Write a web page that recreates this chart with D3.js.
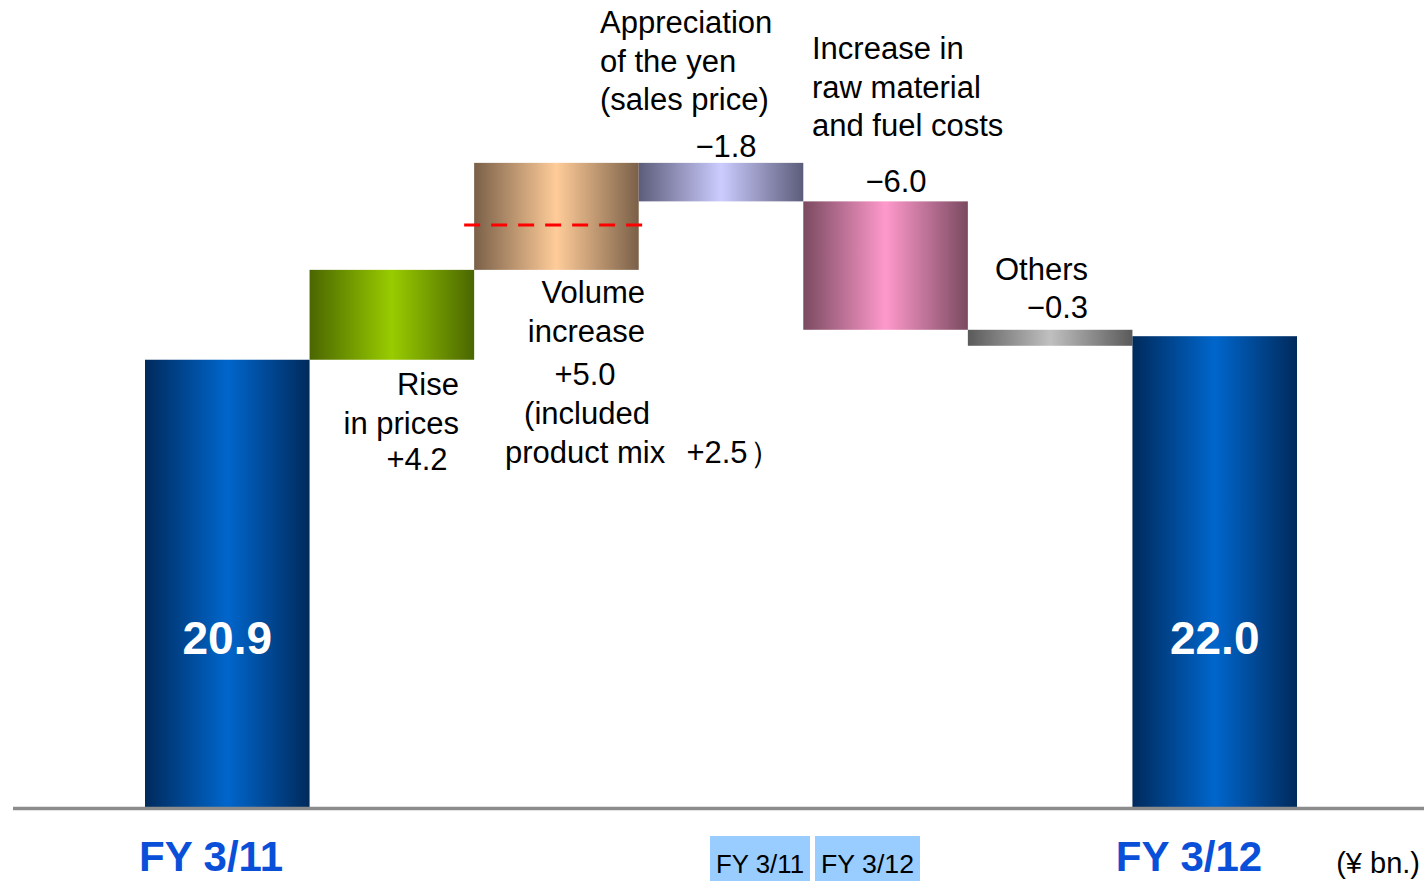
<!DOCTYPE html>
<html lang="en">
<head>
<meta charset="UTF-8">
<title>Operating income waterfall</title>
<script src="https://d3js.org/d3.v7.min.js"></script>
<style>
  body { margin: 0; background: #fff; }
  svg { display: block; font-family: "Liberation Sans", Arial, sans-serif; }
</style>
</head>
<body>
<svg id="chart" width="1424" height="881"></svg>
<script>
// data
const categories = ["FY 3/11", "Rise in prices", "Volume increase", "Appreciation of the yen",
                    "Raw material and fuel costs", "Others", "FY 3/12"];
const values = [20.9, 4.2, 5.0, -1.8, -6.0, -0.3, 22.0];
const isTotal = [true, false, false, false, false, false, true];
const valueLabels = ["20.9", "+4.2", "+5.0", "\u22121.8", "\u22126.0", "\u22120.3", "22.0"];
const productMix = "+2.5";
const productMixLevel = 27.2; // dashed line inside the volume bar
const legendBoxes = ["FY 3/11", "FY 3/12"];

const gradColors = [
  ["#002a5c", "#0066cc"],
  ["#4a6600", "#99cc00"],
  ["#7a6048", "#ffcc99"],
  ["#5c5c7a", "#ccccff"],
  ["#7a4a60", "#ff99cc"],
  ["#5a5a5a", "#c0c0c0"],
  ["#002a5c", "#0066cc"]
];

const svg = d3.select("#chart");
const baseY = 807;

const x = d3.scaleBand().domain(categories).range([145, 1297]).padding(0);
const y = d3.scaleLinear().domain([0, 30]).range([baseY, baseY - 30 * 21.4]);

// running totals for the waterfall
let run = 0;
const bars = categories.map((c, i) => {
  let start, end;
  if (isTotal[i]) { start = 0; end = values[i]; run = values[i]; }
  else { start = run; end = run + values[i]; run = end; }
  return { cat: c, i, start, end };
});

// horizontal gradients
const defs = svg.append("defs");
gradColors.forEach((g, i) => {
  const lg = defs.append("linearGradient").attr("id", "g" + i)
    .attr("x1", "0%").attr("x2", "100%").attr("y1", "0%").attr("y2", "0%");
  lg.append("stop").attr("offset", "0%").attr("stop-color", g[0]);
  lg.append("stop").attr("offset", "50%").attr("stop-color", g[1]);
  lg.append("stop").attr("offset", "100%").attr("stop-color", g[0]);
});

svg.selectAll("rect.bar")
  .data(bars)
  .join("rect")
  .attr("class", "bar")
  .attr("x", d => x(d.cat))
  .attr("width", x.bandwidth())
  .attr("y", d => y(Math.max(d.start, d.end)))
  .attr("height", d => Math.max(16, Math.abs(y(d.start) - y(d.end))))
  .attr("fill", d => `url(#g${d.i})`);

// red dashed line in the volume bar
svg.append("line")
  .attr("x1", x(categories[2]) - 10)
  .attr("x2", x(categories[2]) + x.bandwidth() + 6)
  .attr("y1", y(productMixLevel)).attr("y2", y(productMixLevel))
  .attr("stroke", "#ff0000").attr("stroke-width", 3)
  .attr("stroke-dasharray", "16,11");

// baseline
svg.append("line")
  .attr("x1", 13).attr("x2", 1424)
  .attr("y1", baseY + 1.5).attr("y2", baseY + 1.5)
  .attr("stroke", "#8c8c8c").attr("stroke-width", 3.5);

// total values inside bars
[0, 6].forEach(i => {
  svg.append("text")
    .attr("x", x(categories[i]) + x.bandwidth() / 2)
    .attr("y", 654)
    .attr("text-anchor", "middle")
    .attr("fill", "#fff").attr("font-weight", "bold")
    .attr("font-size", 46)
    .text(valueLabels[i]);
});

function label(lines, xx, yy, anchor, step = 38.5) {
  const t = svg.append("text").attr("font-size", 31).attr("fill", "#000")
    .attr("text-anchor", anchor);
  lines.forEach((l, k) => {
    t.append("tspan").attr("x", xx).attr("y", yy + k * step).text(l);
  });
  return t;
}

// Rise in prices
label(["Rise", "in prices"], 459, 395, "end");
label([valueLabels[1]], 417, 470, "middle");

// Volume increase
label(["Volume", "increase"], 645, 303, "end");
label([valueLabels[2]], 585, 385, "middle");
label(["(included"], 587, 424, "middle");
label(["product mix"], 505, 463, "start");
label([productMix], 717, 463, "middle");
label(["\uff09"], 750, 463, "start");

// Appreciation of the yen
label(["Appreciation", "of the yen", "(sales price)"], 600, 33, "start");
label([valueLabels[3]], 726, 157, "middle");

// Raw material
label(["Increase in", "raw material", "and fuel costs"], 812, 59, "start");
label([valueLabels[4]], 896, 192, "middle");

// Others
label(["Others"], 1088, 280, "end");
label([valueLabels[5]], 1088, 318, "end");

// category labels under totals
svg.append("text").attr("x", 211).attr("y", 871).attr("text-anchor", "middle")
  .attr("font-size", 42).attr("font-weight", "bold").attr("fill", "#0a4fd8")
  .text(categories[0]);
svg.append("text").attr("x", 1189).attr("y", 871).attr("text-anchor", "middle")
  .attr("font-size", 42).attr("font-weight", "bold").attr("fill", "#0a4fd8")
  .text(categories[6]);

svg.append("text").attr("x", 1420).attr("y", 873).attr("text-anchor", "end")
  .attr("font-size", 29).attr("fill", "#000").text("(\u00a5 bn.)");

// small light blue boxes
const boxX = [710, 815], boxW = [100, 105];
legendBoxes.forEach((b, i) => {
  svg.append("rect").attr("x", boxX[i]).attr("y", 836).attr("width", boxW[i]).attr("height", 45)
    .attr("fill", "#99ccff");
  svg.append("text").attr("x", boxX[i] + boxW[i] / 2).attr("y", 873)
    .attr("text-anchor", "middle").attr("font-size", 25).attr("fill", "#000")
    .attr("textLength", boxW[i] - 12).attr("lengthAdjust", "spacingAndGlyphs")
    .text(b);
});
</script>
</body>
</html>
